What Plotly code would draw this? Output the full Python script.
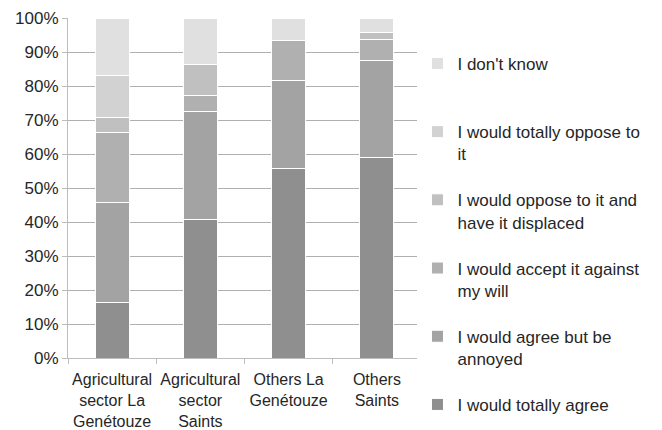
import plotly.graph_objects as go

# Survey categories (x axis) and their multi-line tick labels
categories = ["Agricultural sector La Genétouze", "Agricultural sector Saints",
              "Others La Genétouze", "Others Saints"]
tick_labels = ["Agricultural<br>sector La<br>Genétouze", "Agricultural<br>sector<br>Saints",
               "Others La<br>Genétouze", "Others<br>Saints"]

# Share of respondents (%) per answer, stacked bottom to top
totally_agree = [16.4, 40.7, 55.6, 59.1]
agree_annoyed = [29.3, 31.9, 26.0, 28.5]
accept_against_will = [20.7, 4.5, 11.8, 6.1]
oppose_displaced = [4.3, 9.1, 0.0, 2.1]
totally_oppose = [12.4, 0.0, 0.0, 0.0]
dont_know = [16.9, 13.8, 6.6, 4.2]

series = [
    ("I would totally agree", totally_agree, "#8f8f8f"),
    ("I would agree but be<br>annoyed", agree_annoyed, "#a3a3a3"),
    ("I would accept it against<br>my will", accept_against_will, "#b0b0b0"),
    ("I would oppose to it and<br>have it displaced", oppose_displaced, "#c0c0c0"),
    ("I would totally oppose to<br>it", totally_oppose, "#d2d2d2"),
    ("I don't know<br> ", dont_know, "#e0e0e0"),
]

FONT = "Liberation Sans, Arial, Helvetica, sans-serif"
TEXT = "#262626"

fig = go.Figure()
n = len(series)
for i, (name, vals, color) in enumerate(series):
    fig.add_trace(go.Bar(
        x=categories, y=vals, name=name, legendgroup=f"g{i}",
        legendrank=n - i,  # top of the stack listed first
        marker=dict(color=color, line=dict(color="white", width=1)),
        hoverinfo="x+y+name",
    ))

fig.update_layout(
    width=662, height=430,
    barmode="stack", bargap=0.614,
    paper_bgcolor="white", plot_bgcolor="white",
    margin=dict(l=68, r=241, t=18, b=72),
    font=dict(family=FONT, size=16, color=TEXT),
    legend=dict(
        traceorder="grouped", valign="top",
        x=0.99, xanchor="left", y=0.918, yanchor="top",
        font=dict(size=17, color=TEXT),
        tracegroupgap=21, itemclick=False, maxheight=420,
    ),
    showlegend=True,
)
fig.update_xaxes(
    type="category", tickmode="array", tickvals=categories, ticktext=tick_labels,
    tickangle=0, automargin=False, ticklabelstandoff=7,
    showline=True, linecolor="#bdbdbd", linewidth=1,
    ticks="outside", tickson="boundaries", ticklen=5, tickcolor="#bdbdbd",
    showgrid=False, tickfont=dict(size=16, color=TEXT),
)
fig.update_yaxes(
    range=[0, 100], dtick=10, ticksuffix="%", automargin=False,
    showline=True, linecolor="#bdbdbd", linewidth=1,
    ticks="outside", ticklen=5, tickcolor="#bdbdbd",
    showgrid=True, gridcolor="#b0b0b0", gridwidth=1,
    zeroline=False, tickfont=dict(size=17, color=TEXT),
)

fig.write_html("out.html")
